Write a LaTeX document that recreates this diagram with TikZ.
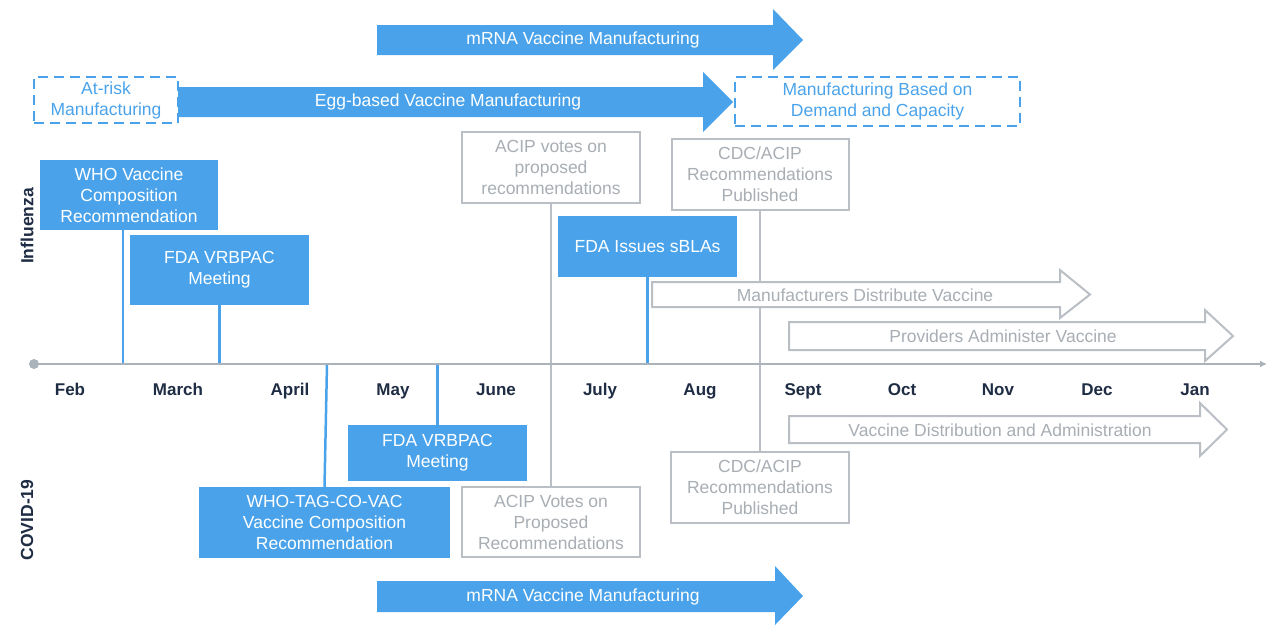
\documentclass[tikz,border=0pt]{standalone}
\usepackage{fontspec}
\setmainfont{Liberation Sans}
\usetikzlibrary{arrows.meta}
\definecolor{vblue}{RGB}{74,163,234}
\definecolor{vgrey}{RGB}{186,191,197}
\definecolor{vgreytext}{RGB}{168,174,180}
\definecolor{vaxis}{RGB}{170,178,186}
\definecolor{vnavy}{RGB}{30,44,68}
\begin{document}
\begin{tikzpicture}[x=1pt,y=-1pt,
  every node/.style={font=\fontsize{17.5}{21}\selectfont},
  bluebox/.style={rectangle,fill=vblue,text=white,inner sep=0pt,align=center},
  greybox/.style={rectangle,draw=vgrey,line width=2pt,fill=white,text=vgreytext,inner sep=0pt,align=center},
  dashbox/.style={rectangle,draw=vblue,line width=2pt,dash pattern=on 10pt off 6pt,text=vblue,inner sep=0pt,align=center},
  bline/.style={draw=vblue,line width=2.5pt},
  gline/.style={draw=vgrey,line width=2.5pt},
  solidarrow/.style={fill=vblue},
  hollowarrow/.style={draw=vgrey,line width=2pt,fill=white,line join=miter},
  arrowlabel/.style={text=white},
  hollowlabel/.style={text=vgreytext},
  month/.style={text=vnavy,anchor=base,font=\fontsize{17}{21}\selectfont\bfseries},
  region/.style={text=vnavy,font=\fontsize{17.5}{21}\selectfont\bfseries,rotate=90}
]
\useasboundingbox (0,0) rectangle (1268,625);

% ---------- timeline axis ----------
\coordinate (ax0) at (34,364);
\coordinate (ax1) at (1267,364);
\coordinate (whotick) at (123,364);
\coordinate (tagtick) at (327,364);

% ---------- manufacturing bars ----------
\fill[solidarrow] (377,25) -- (773,25) -- (773,9) -- (803,40) -- (773,70) -- (773,55) -- (377,55) -- cycle;
\node[arrowlabel] (mrnatop) at (583,40) {mRNA Vaccine Manufacturing};

\fill[solidarrow] (178,87) -- (703,87) -- (703,72) -- (733,102) -- (703,132) -- (703,117) -- (178,117) -- cycle;
\node[arrowlabel] (egg) at (448,102) {Egg-based Vaccine Manufacturing};

\node[dashbox,minimum width=144pt,minimum height=46pt] (atrisk) at (106,100) {At-risk\\Manufacturing};
\node[dashbox,minimum width=285pt,minimum height=49pt] (demand) at (877.5,101.5) {Manufacturing Based on\\Demand and Capacity};

\fill[solidarrow] (377,581) -- (775,581) -- (775,566) -- (803,596) -- (775,625) -- (775,612) -- (377,612) -- cycle;
\node[arrowlabel] (mrnabot) at (583,597) {mRNA Vaccine Manufacturing};

% ---------- milestone boxes ----------
\node[bluebox,minimum width=178pt,minimum height=70pt] (who) at (129,195) {WHO Vaccine\\Composition\\Recommendation};
\node[bluebox,minimum width=179pt,minimum height=70pt] (fdaf) at (219.5,270) {FDA VRBPAC\\Meeting};
\node[bluebox,minimum width=179pt,minimum height=61pt] (sbla) at (647.5,246.5) {FDA Issues sBLAs};
\node[bluebox,minimum width=179pt,minimum height=56pt] (fdac) at (437.5,453) {FDA VRBPAC\\Meeting};
\node[bluebox,minimum width=251pt,minimum height=71pt] (whotag) at (324.5,522.5) {WHO-TAG-CO-VAC\\Vaccine Composition\\Recommendation};

% ---------- connectors to the axis ----------
\draw[bline] (whotick |- who.south) -- (whotick);
\draw[bline] (fdaf.south) -- (fdaf.south |- ax0);
\draw[bline] (sbla.south) -- (sbla.south |- ax0);
\draw[bline] (fdac.north) -- (fdac.north |- ax0);
\draw[bline] (whotag.north) -- (tagtick);

\node[greybox,minimum width=178pt,minimum height=71pt] (acipf) at (551,167.5) {ACIP votes on\\proposed\\recommendations};
\node[greybox,minimum width=178pt,minimum height=70pt] (acipc) at (551,522) {ACIP Votes on\\Proposed\\Recommendations};
\node[greybox,minimum width=177pt,minimum height=71pt] (cdcf) at (760,174.5) {CDC/ACIP\\Recommendations\\Published};
\node[greybox,minimum width=178pt,minimum height=71pt] (cdcc) at (760,487.5) {CDC/ACIP\\Recommendations\\Published};

\draw[gline] (acipf.south) -- (acipc.north);
\draw[gline] (cdcf.south) -- (cdcc.north);

% ---------- distribution bars ----------
\draw[hollowarrow] (652,282) -- (1060,282) -- (1060,270) -- (1090,294.5) -- (1060,318) -- (1060,307) -- (652,307) -- cycle;
\node[hollowlabel] (distrib) at (865,295) {Manufacturers Distribute Vaccine};

\draw[hollowarrow] (789,322) -- (1205,322) -- (1205,310) -- (1233,336) -- (1205,361) -- (1205,350) -- (789,350) -- cycle;
\node[hollowlabel] (admin) at (1003,336) {Providers Administer Vaccine};

\draw[hollowarrow] (789,416) -- (1200,416) -- (1200,403) -- (1227,429.5) -- (1200,456) -- (1200,443) -- (789,443) -- cycle;
\node[hollowlabel] (distadmin) at (1000,430) {Vaccine Distribution and Administration};

% ---------- axis on top ----------
\draw[vaxis,line width=2.5pt,-{Latex[length=7pt,width=7pt]}] (ax0) -- (ax1);
\fill[vaxis] (ax0) circle (5pt);

% ---------- month labels ----------
\node[month] (feb) at (70,395) {Feb};
\node[month] (mar) at (178,395) {March};
\node[month] (apr) at (290,395) {April};
\node[month] (may) at (393,395) {May};
\node[month] (jun) at (496,395) {June};
\node[month] (jul) at (600,395) {July};
\node[month] (aug) at (700,395) {Aug};
\node[month] (sep) at (803,395) {Sept};
\node[month] (oct) at (902,395) {Oct};
\node[month] (nov) at (998,395) {Nov};
\node[month] (dec) at (1097,395) {Dec};
\node[month] (jan) at (1195,395) {Jan};

% ---------- row labels ----------
\node[region] (flu) at (27,226) {Influenza};
\node[region] (covid) at (27,520) {COVID-19};
\end{tikzpicture}
\end{document}
